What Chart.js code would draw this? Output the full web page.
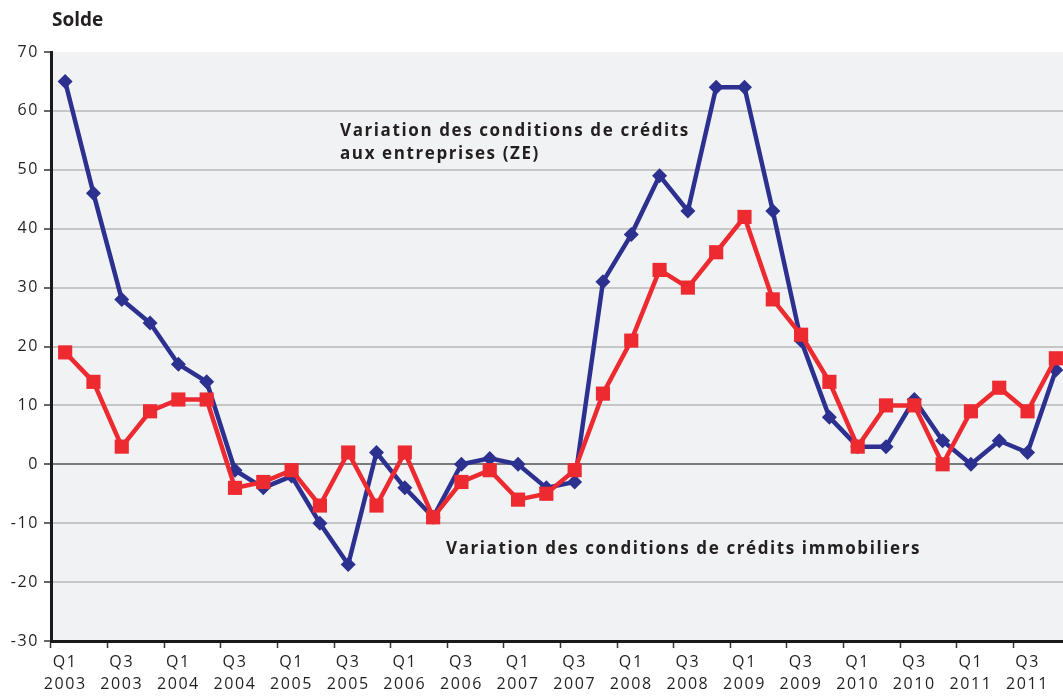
<!DOCTYPE html>
<html>
<head>
<meta charset="utf-8">
<script src="https://cdn.jsdelivr.net/npm/chart.js@4.4.1/dist/chart.umd.min.js"></script>
<style>
  html, body { margin: 0; padding: 0; background: #ffffff; overflow: hidden; }
  #wrap { width: 1080px; height: 697px; }
</style>
</head>
<body>
<div id="wrap"><canvas id="c" width="1080" height="697"></canvas></div>
<script>
// ---- Data ----
const years = ['2003','2004','2005','2006','2007','2008','2009','2010','2011'];
const quarters = ['Q1','Q2','Q3','Q4'];
const categories = [];
years.forEach(y => quarters.forEach(q => categories.push(q + ' ' + y)));

const creditsEntreprises = [65, 46, 28, 24, 17, 14, -1, -4, -2, -10, -17, 2, -4, -9, 0, 1, 0, -4, -3, 31, 39, 49, 43, 64, 64, 43, 21, 8, 3, 3, 11, 4, 0, 4, 2, 16];
const creditsImmobiliers = [19, 14, 3, 9, 11, 11, -4, -3, -1, -7, 2, -7, 2, -9, -3, -1, -6, -5, -1, 12, 21, 33, 30, 36, 42, 28, 22, 14, 3, 10, 10, 0, 9, 13, 9, 18];

const yTicks = [-30, -20, -10, 0, 10, 20, 30, 40, 50, 60, 70];
const yTitle = 'Solde';
const noteEntreprises = ['Variation des conditions de crédits', 'aux entreprises (ZE)'];
const noteImmobiliers = 'Variation des conditions de crédits immobiliers';

const FONT = "'Open Sans', 'Noto Sans', sans-serif";

const spacingPlugin = {
  id: 'spacing',
  beforeUpdate(chart) { chart.ctx.letterSpacing = '1.6px'; },
  beforeDraw(chart) {
    const { ctx, chartArea } = chart;
    ctx.letterSpacing = '1.6px';
    ctx.save();
    ctx.fillStyle = '#f1f2f4';
    ctx.fillRect(chartArea.left, chartArea.top, chartArea.right - chartArea.left, chartArea.bottom - chartArea.top);
    ctx.restore();
  },
  afterDraw(chart) {
    const { ctx } = chart;
    ctx.save();
    ctx.fillStyle = '#231f20';
    ctx.textBaseline = 'alphabetic';
    ctx.textAlign = 'left';
    ctx.letterSpacing = '0px';
    ctx.font = "bold 19px " + FONT;
    ctx.fillText(yTitle, 52, 26);
    ctx.letterSpacing = '1.6px';
    ctx.font = "bold 17px " + FONT;
    ctx.fillText(noteEntreprises[0], 340, 136);
    ctx.fillText(noteEntreprises[1], 340, 159);
    ctx.fillText(noteImmobiliers, 446, 554);
    ctx.restore();
  }
};

new Chart(document.getElementById('c'), {
  type: 'line',
  data: {
    labels: categories,
    datasets: [
      {
        label: noteEntreprises.join(' '),
        data: creditsEntreprises,
        borderColor: '#2c3190',
        backgroundColor: '#2c3190',
        borderWidth: 4.5,
        pointStyle: 'rectRot',
        pointRadius: 7.5,
        pointBorderWidth: 0,
        tension: 0,
        order: 1
      },
      {
        label: noteImmobiliers,
        data: creditsImmobiliers,
        borderColor: '#ec2a30',
        backgroundColor: '#ec2a30',
        borderWidth: 4.5,
        pointStyle: 'rect',
        pointRadius: 10,
        pointBorderWidth: 0,
        tension: 0,
        order: 0
      }
    ]
  },
  options: {
    responsive: false,
    animation: false,
    events: [],
    layout: { padding: { top: 52, right: 1, left: 0, bottom: 0 } },
    plugins: { legend: { display: false }, title: { display: false }, tooltip: { enabled: false } },
    scales: {
      x: {
        type: 'category',
        offset: true,
        border: { display: true, color: '#1a1a1a', width: 3 },
        grid: {
          offset: true,
          drawOnChartArea: false,
          drawTicks: true,
          tickLength: 7,
          tickWidth: 1.5,
          tickColor: ctx => (ctx.index % 2 === 0 ? '#333333' : 'rgba(0,0,0,0)'),
          color: 'rgba(0,0,0,0)'
        },
        ticks: {
          autoSkip: false,
          maxRotation: 0,
          minRotation: 0,
          padding: 4,
          color: '#231f20',
          font: { family: FONT, size: 16, lineHeight: 1.35 },
          callback: function (value, index) {
            if (index % 2 !== 0) return '';
            const parts = categories[index].split(' ');
            return [parts[0], parts[1]];
          }
        },
        afterFit: s => { s.height = 56; }
      },
      y: {
        min: -30,
        max: 70,
        afterBuildTicks: s => { s.ticks = yTicks.map(v => ({ value: v })); },
        border: { display: true, color: '#1a1a1a', width: 3 },
        grid: {
          color: ctx => {
            const v = ctx.tick ? ctx.tick.value : null;
            if (v === 0) return '#7a7a7a';
            if (v === 70 || v === -30) return 'rgba(0,0,0,0)';
            return '#c6c6c6';
          },
          lineWidth: 2,
          tickLength: 7,
          tickColor: '#333333',
          tickWidth: 1.5
        },
        ticks: {
          color: '#231f20',
          padding: 5,
          font: { family: FONT, size: 16 }
        },
        afterFit: s => { s.width = 51; }
      }
    }
  },
  plugins: [spacingPlugin]
});
</script>
</body>
</html>
